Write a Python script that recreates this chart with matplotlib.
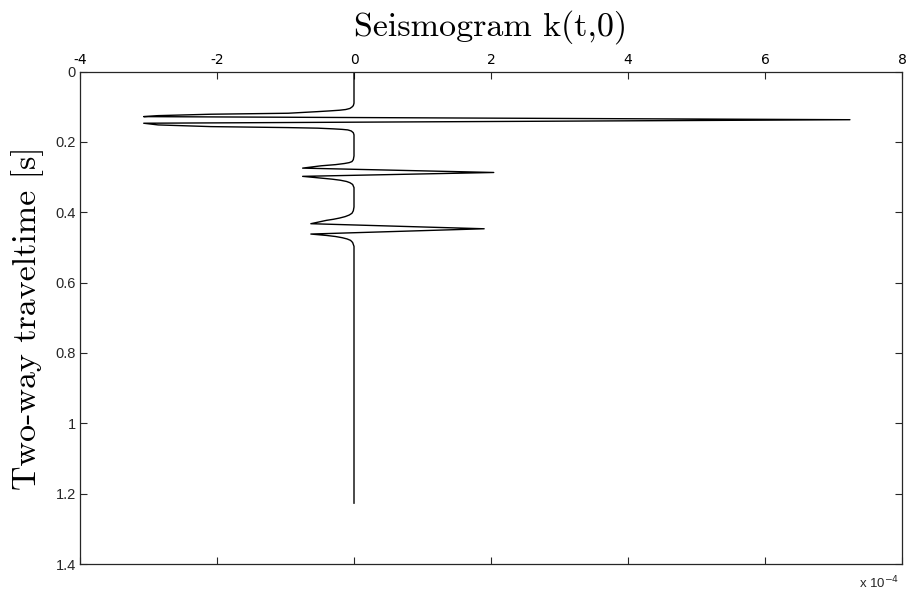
import matplotlib
matplotlib.use("Agg")
import matplotlib.pyplot as plt

# seismogram trace k(t,0): two-way time [s] vs amplitude [x 1e-4]
time_s = [
    0.000, 0.090, 0.097, 0.101, 0.105, 0.108, 0.110, 0.112, 0.114, 0.1186,
    0.1214, 0.1254, 0.1282,
    0.137,
    0.147, 0.1518, 0.1566, 0.1594, 0.161, 0.163, 0.1645, 0.166, 0.169,
    0.174, 0.180,
    0.240, 0.2505, 0.256, 0.259, 0.2615, 0.2647, 0.268, 0.2746,
    0.287,
    0.298, 0.303, 0.306, 0.309, 0.3125, 0.316, 0.321, 0.330,
    0.385, 0.396, 0.403, 0.408, 0.4125, 0.4165, 0.420, 0.423, 0.4326,
    0.447,
    0.462, 0.466, 0.469, 0.4725, 0.476, 0.480, 0.486, 0.497,
    1.227,
]
amp_e4 = [
    0.00, 0.00, -0.01, -0.03, -0.06, -0.12, -0.21, -0.36, -0.53, -0.96,
    -2.09, -2.86, -3.07,
    7.24,
    -3.07, -2.86, -2.09, -0.96, -0.53, -0.30, -0.17, -0.09, -0.04,
    -0.01, 0.00,
    0.00, -0.01, -0.03, -0.07, -0.14, -0.27, -0.48, -0.75,
    2.04,
    -0.75, -0.48, -0.32, -0.20, -0.11, -0.06, -0.02, 0.00,
    0.00, -0.01, -0.03, -0.07, -0.13, -0.21, -0.30, -0.40, -0.63,
    1.90,
    -0.63, -0.40, -0.27, -0.17, -0.10, -0.05, -0.02, 0.00,
    0.00,
]

x_ticks = [-4, -2, 0, 2, 4, 6, 8]
y_ticks = [0, 0.2, 0.4, 0.6, 0.8, 1.0, 1.2, 1.4]
y_tick_labels = ["0", "0.2", "0.4", "0.6", "0.8", "1", "1.2", "1.4"]

fig = plt.figure(figsize=(9.07, 5.99), dpi=100)
fig.patch.set_facecolor("white")
ax = fig.add_axes([0.0882, 0.0584, 0.9063, 0.8222])

ax.plot(amp_e4, time_s, color="black", lw=1.0)

ax.set_xlim(-4, 8)
ax.set_ylim(1.4, 0)
ax.set_xticks(x_ticks)
ax.set_xticklabels([str(v) for v in x_ticks])
ax.set_yticks(y_ticks)
ax.set_yticklabels(y_tick_labels)

for lab in ax.get_xticklabels() + ax.get_yticklabels():
    lab.set_fontfamily("Liberation Sans")
    lab.set_fontsize(10.5)
    lab.set_color("#262626")

ax.tick_params(direction="in", length=5, width=0.8, color="#262626",
               top=True, bottom=True, left=True, right=True,
               labeltop=True, labelbottom=False, pad=3)
for sp in ax.spines.values():
    sp.set_linewidth(0.9)
    sp.set_color("#262626")

ax.set_title("Seismogram k(t,0)", fontfamily="cmr10", fontsize=24.5, pad=26)
ax.set_ylabel("Two-way traveltime [s]", fontfamily="cmr10", fontsize=24.5, labelpad=8)

# exponent note under the lower right corner
fig.text(0.992, 0.013, r"x 10$^{-4}$", ha="right", va="bottom",
         fontfamily="Liberation Sans", fontsize=9.5, color="#262626")

fig.savefig("out.png", dpi=100, facecolor="white")
